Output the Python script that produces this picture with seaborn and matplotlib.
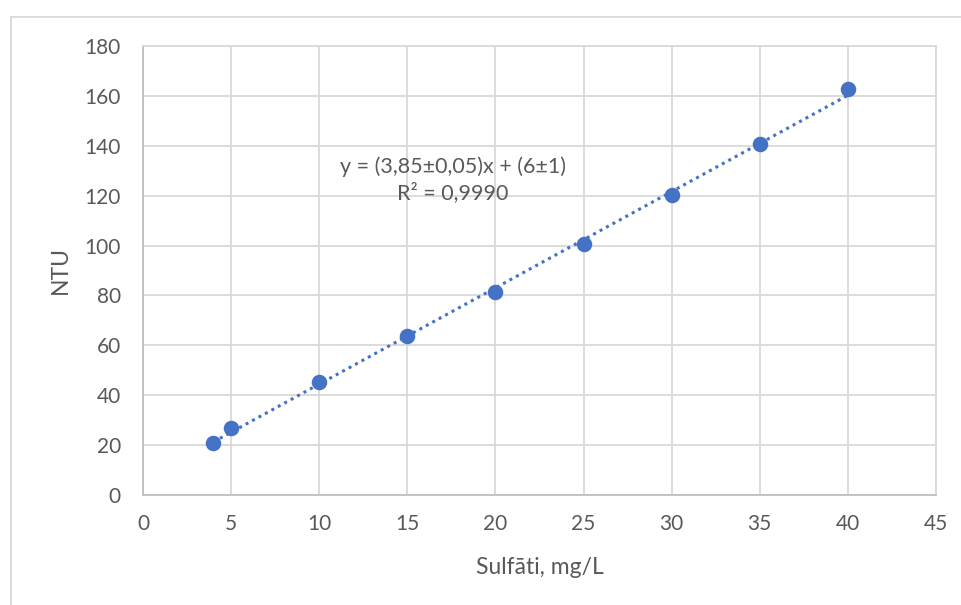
import matplotlib.pyplot as plt
from matplotlib.lines import Line2D
import pandas as pd
import seaborn as sns

sulfati = [4, 5, 10, 15, 20, 25, 30, 35, 40]
ntu = [21.0, 26.7, 45.5, 63.8, 81.2, 100.6, 120.3, 140.8, 162.9]
x_ticks = [0, 5, 10, 15, 20, 25, 30, 35, 40, 45]
y_ticks = [0, 20, 40, 60, 80, 100, 120, 140, 160, 180]
eq_text = "y = (3,85±0,05)x + (6±1)\nR² = 0,9990"

df = pd.DataFrame({"x": sulfati, "y": ntu})

sns.set_style("white")
plt.rcParams["font.family"] = ["Lato", "DejaVu Sans"]
text_col = "#595959"
grid_col = "#D9D9D9"
blue = "#4472C4"

fig = plt.figure(figsize=(9.62, 6.05), dpi=100)
ax = fig.add_axes([143 / 962, 1 - 495 / 605, (936 - 143) / 962, (495 - 46) / 605])

# trendline (linear fit) + points
sns.regplot(data=df, x="x", y="y", ax=ax, scatter=False, ci=None,
            line_kws={"color": blue, "lw": 2.2, "linestyle": (0, (1, 1.4))})
sns.scatterplot(data=df, x="x", y="y", ax=ax, color=blue, s=125,
                edgecolor=blue, linewidth=0, zorder=5)

ax.set_xlim(0, 45)
ax.set_ylim(0, 180)
ax.set_xticks(x_ticks)
ax.set_yticks(y_ticks)
ax.grid(True, color=grid_col, lw=1.3)
ax.set_axisbelow(True)
for s in ax.spines.values():
    s.set_color(grid_col)
    s.set_linewidth(1.3)
ax.spines["left"].set_color("#BFBFBF")
ax.spines["bottom"].set_color("#BFBFBF")
ax.tick_params(axis="x", length=0, labelsize=15, colors=text_col, pad=13.5)
ax.tick_params(axis="y", length=0, labelsize=15, colors=text_col, pad=16)

ax.set_xlabel("Sulfāti, mg/L", fontsize=16.5, color=text_col, labelpad=17)
ax.set_ylabel("NTU", fontsize=16.5, color=text_col, labelpad=10)

ax.text(17.6, 126.5, eq_text, ha="center", va="center", fontsize=15.5,
        color=text_col, linespacing=1.3)

# chart area border
fig.add_artist(Line2D([10.5 / 962, 10.5 / 962], [0, 1 - 17 / 605],
                      transform=fig.transFigure, color=grid_col, lw=1.3))
fig.add_artist(Line2D([10.5 / 962, 1], [1 - 17 / 605, 1 - 17 / 605],
                      transform=fig.transFigure, color=grid_col, lw=1.3))

plt.savefig("out.png", dpi=100)
plt.close()
